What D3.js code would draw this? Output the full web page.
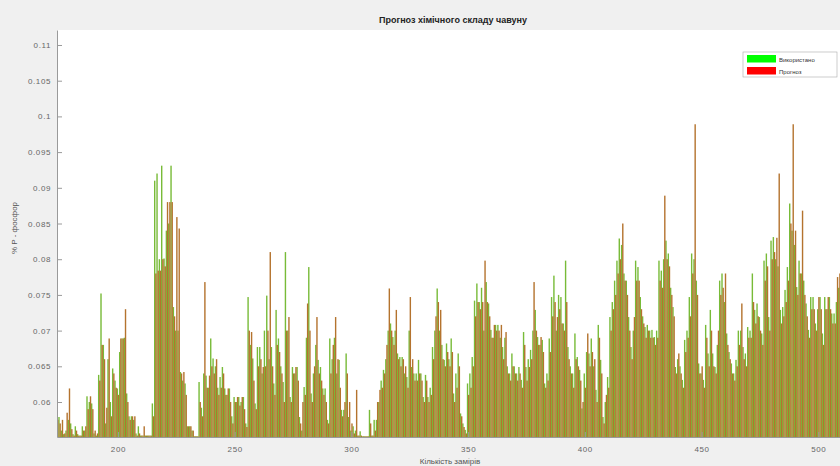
<!DOCTYPE html>
<html>
<head>
<meta charset="utf-8">
<script src="https://cdn.jsdelivr.net/npm/d3@7"></script>
<style>
  html, body { margin: 0; padding: 0; background: #f0f0f0; }
  svg { display: block; font-family: "Liberation Sans", Arial, sans-serif; }
</style>
</head>
<body>
<div id="chart"></div>
<script>
// samples start at this index, one value per sample
const firstSample = 174;

const measured = [
  0.0579, 0.0579, 0.0560, 0.0555, 0.0560, 0.0575, 0.0570, 0.0555, 0.0566, 0.0555,
  0.0553, 0.0566, 0.0560, 0.0608, 0.0600, 0.0598, 0.0556, 0.0553, 0.0638, 0.0752,
  0.0680, 0.0570, 0.0660, 0.0600, 0.0647, 0.0630, 0.0619, 0.0670, 0.0689, 0.0690,
  0.0612, 0.0580, 0.0580, 0.0575, 0.0556, 0.0566, 0.0553, 0.0553, 0.0553, 0.0553,
  0.0553, 0.0598, 0.0910, 0.0920, 0.0800, 0.0931, 0.0801, 0.0840, 0.0850, 0.0931,
  0.0733, 0.0700, 0.0700, 0.0642, 0.0630, 0.0626, 0.0566, 0.0566, 0.0560, 0.0552,
  0.0552, 0.0628, 0.0592, 0.0640, 0.0637, 0.0620, 0.0689, 0.0661, 0.0650, 0.0620,
  0.0635, 0.0649, 0.0619, 0.0610, 0.0619, 0.0580, 0.0607, 0.0600, 0.0607, 0.0600,
  0.0607, 0.0570, 0.0747, 0.0680, 0.0661, 0.0598, 0.0677, 0.0677, 0.0640, 0.0700,
  0.0749, 0.0660, 0.0677, 0.0626, 0.0729, 0.0689, 0.0650, 0.0628, 0.0810, 0.0700,
  0.0607, 0.0649, 0.0640, 0.0649, 0.0579, 0.0560, 0.0621, 0.0690, 0.0789, 0.0612,
  0.0640, 0.0680, 0.0659, 0.0649, 0.0619, 0.0619, 0.0575, 0.0689, 0.0660, 0.0690,
  0.0640, 0.0659, 0.0589, 0.0589, 0.0668, 0.0579, 0.0560, 0.0566, 0.0560, 0.0553,
  0.0559, 0.0552, 0.0552, 0.0552, 0.0589, 0.0553, 0.0575, 0.0575, 0.0600, 0.0630,
  0.0645, 0.0660, 0.0700, 0.0710, 0.0691, 0.0700, 0.0668, 0.0663, 0.0663, 0.0640,
  0.0635, 0.0700, 0.0649, 0.0640, 0.0640, 0.0659, 0.0640, 0.0607, 0.0638, 0.0607,
  0.0620, 0.0677, 0.0700, 0.0759, 0.0700, 0.0680, 0.0659, 0.0682, 0.0660, 0.0689,
  0.0612, 0.0640, 0.0668, 0.0584, 0.0570, 0.0561, 0.0626, 0.0640, 0.0663, 0.0742,
  0.0766, 0.0740, 0.0760, 0.0700, 0.0768, 0.0738, 0.0701, 0.0690, 0.0708, 0.0708,
  0.0690, 0.0677, 0.0690, 0.0650, 0.0640, 0.0668, 0.0650, 0.0640, 0.0649, 0.0631,
  0.0698, 0.0649, 0.0660, 0.0673, 0.0700, 0.0729, 0.0691, 0.0680, 0.0687, 0.0626,
  0.0640, 0.0689, 0.0747, 0.0777, 0.0700, 0.0750, 0.0747, 0.0710, 0.0798, 0.0677,
  0.0650, 0.0640, 0.0696, 0.0663, 0.0645, 0.0591, 0.0640, 0.0670, 0.0668, 0.0689,
  0.0650, 0.0617, 0.0708, 0.0659, 0.0579, 0.0600, 0.0635, 0.0719, 0.0740, 0.0770,
  0.0798, 0.0829, 0.0820, 0.0780, 0.0770, 0.0719, 0.0677, 0.0700, 0.0798, 0.0789,
  0.0747, 0.0720, 0.0705, 0.0708, 0.0700, 0.0701, 0.0691, 0.0700, 0.0798, 0.0784,
  0.0800, 0.0826, 0.0808, 0.0760, 0.0733, 0.0649, 0.0660, 0.0650, 0.0631, 0.0687,
  0.0700, 0.0747, 0.0808, 0.0800, 0.0770, 0.0654, 0.0640, 0.0631, 0.0708, 0.0668,
  0.0729, 0.0668, 0.0649, 0.0680, 0.0770, 0.0780, 0.0740, 0.0696, 0.0670, 0.0654,
  0.0640, 0.0659, 0.0700, 0.0700, 0.0677, 0.0668, 0.0705, 0.0700, 0.0780, 0.0729,
  0.0738, 0.0719, 0.0696, 0.0798, 0.0808, 0.0719, 0.0826, 0.0831, 0.0800, 0.0790,
  0.0729, 0.0733, 0.0757, 0.0789, 0.0878, 0.0840, 0.0820, 0.0761, 0.0798, 0.0780,
  0.0770, 0.0738, 0.0701, 0.0747, 0.0747, 0.0710, 0.0730, 0.0747, 0.0696, 0.0747,
  0.0730, 0.0747, 0.0724, 0.0724, 0.0740, 0.0760, 0.0750
];

const forecast = [
  0.0575, 0.0570, 0.0575, 0.0556, 0.0585, 0.0619, 0.0562, 0.0553, 0.0560, 0.0553,
  0.0553, 0.0560, 0.0566, 0.0590, 0.0608, 0.0590, 0.0560, 0.0556, 0.0630, 0.0680,
  0.0660, 0.0592, 0.0689, 0.0580, 0.0640, 0.0620, 0.0610, 0.0689, 0.0689, 0.0730,
  0.0600, 0.0575, 0.0580, 0.0580, 0.0553, 0.0556, 0.0553, 0.0566, 0.0553, 0.0553,
  0.0553, 0.0580, 0.0780, 0.0784, 0.0784, 0.0800, 0.0790, 0.0880, 0.0880, 0.0880,
  0.0720, 0.0859, 0.0843, 0.0640, 0.0642, 0.0610, 0.0566, 0.0566, 0.0560, 0.0552,
  0.0552, 0.0600, 0.0580, 0.0768, 0.0620, 0.0637, 0.0650, 0.0640, 0.0660, 0.0610,
  0.0620, 0.0640, 0.0610, 0.0619, 0.0600, 0.0570, 0.0600, 0.0607, 0.0595, 0.0607,
  0.0590, 0.0565, 0.0700, 0.0698, 0.0630, 0.0590, 0.0650, 0.0660, 0.0649, 0.0650,
  0.0700, 0.0810, 0.0650, 0.0610, 0.0680, 0.0670, 0.0640, 0.0600, 0.0700, 0.0719,
  0.0600, 0.0640, 0.0649, 0.0630, 0.0570, 0.0600, 0.0610, 0.0738, 0.0700, 0.0600,
  0.0650, 0.0719, 0.0640, 0.0630, 0.0610, 0.0600, 0.0570, 0.0640, 0.0680, 0.0719,
  0.0660, 0.0620, 0.0580, 0.0600, 0.0640, 0.0600, 0.0570, 0.0556, 0.0617, 0.0553,
  0.0553, 0.0552, 0.0552, 0.0552, 0.0570, 0.0553, 0.0560, 0.0600, 0.0617, 0.0620,
  0.0640, 0.0680, 0.0759, 0.0700, 0.0680, 0.0729, 0.0660, 0.0650, 0.0660, 0.0650,
  0.0620, 0.0747, 0.0660, 0.0630, 0.0630, 0.0640, 0.0630, 0.0600, 0.0630, 0.0600,
  0.0610, 0.0660, 0.0720, 0.0740, 0.0729, 0.0660, 0.0650, 0.0670, 0.0650, 0.0670,
  0.0600, 0.0620, 0.0650, 0.0580, 0.0565, 0.0556, 0.0610, 0.0620, 0.0650, 0.0720,
  0.0740, 0.0730, 0.0740, 0.0798, 0.0740, 0.0720, 0.0690, 0.0708, 0.0700, 0.0700,
  0.0708, 0.0660, 0.0698, 0.0640, 0.0630, 0.0650, 0.0640, 0.0630, 0.0640, 0.0620,
  0.0680, 0.0630, 0.0649, 0.0660, 0.0768, 0.0700, 0.0680, 0.0691, 0.0670, 0.0620,
  0.0630, 0.0670, 0.0720, 0.0740, 0.0719, 0.0730, 0.0710, 0.0700, 0.0740, 0.0660,
  0.0640, 0.0620, 0.0660, 0.0650, 0.0630, 0.0600, 0.0620, 0.0696, 0.0650, 0.0670,
  0.0660, 0.0600, 0.0690, 0.0640, 0.0570, 0.0610, 0.0620, 0.0700, 0.0730, 0.0750,
  0.0780, 0.0800, 0.0850, 0.0770, 0.0750, 0.0700, 0.0660, 0.0719, 0.0770, 0.0770,
  0.0730, 0.0710, 0.0690, 0.0700, 0.0690, 0.0690, 0.0680, 0.0690, 0.0770, 0.0760,
  0.0889, 0.0800, 0.0790, 0.0750, 0.0720, 0.0640, 0.0668, 0.0640, 0.0620, 0.0670,
  0.0690, 0.0720, 0.0780, 0.0989, 0.0750, 0.0640, 0.0650, 0.0620, 0.0690, 0.0650,
  0.0700, 0.0650, 0.0640, 0.0700, 0.0750, 0.0760, 0.0780, 0.0680, 0.0660, 0.0640,
  0.0630, 0.0650, 0.0680, 0.0738, 0.0660, 0.0650, 0.0690, 0.0690, 0.0740, 0.0710,
  0.0720, 0.0700, 0.0680, 0.0770, 0.0790, 0.0700, 0.0800, 0.0810, 0.0830, 0.0920,
  0.0710, 0.0720, 0.0740, 0.0770, 0.0850, 0.0989, 0.0840, 0.0750, 0.0780, 0.0868,
  0.0750, 0.0720, 0.0690, 0.0730, 0.0730, 0.0700, 0.0747, 0.0730, 0.0680, 0.0730,
  0.0747, 0.0730, 0.0710, 0.0710, 0.0775, 0.0780, 0.0770
];

const seriesNames = ["Використано", "Прогноз"];
const yTicks = [0.06, 0.065, 0.07, 0.075, 0.08, 0.085, 0.09, 0.095, 0.1, 0.105, 0.11];
const xTicks = [200, 250, 300, 350, 400, 450, 500];

const width = 840, height = 466;
const plot = { left: 57, top: 30, right: 865, bottom: 437 };

const barColor = ["#78bb38", "#b4732e"];
const legendColor = ["#00ff00", "#ff0000"];

const svg = d3.select("#chart").append("svg")
  .attr("width", width)
  .attr("height", height);

svg.append("rect")
  .attr("width", width).attr("height", height)
  .attr("fill", "#f0f0f0");

const x = d3.scaleLinear().domain([173.9, 520]).range([plot.left, plot.right]);
const y = d3.scaleLinear().domain([0.0551, 0.1121]).range([plot.bottom, plot.top]);

svg.append("clipPath").attr("id", "plotClip")
  .append("rect")
  .attr("x", plot.left).attr("y", plot.top)
  .attr("width", plot.right - plot.left).attr("height", plot.bottom - plot.top);

// white axes area
svg.append("rect")
  .attr("x", plot.left).attr("y", plot.top)
  .attr("width", plot.right - plot.left).attr("height", plot.bottom - plot.top)
  .attr("fill", "#fff");

const rows = measured.map((m, i) => ({ idx: firstSample + i, vals: [m, forecast[i]] }));
const step = x(1) - x(0);

// the two bars of one sample overlap a little, so the groups read as solid
const bars = svg.append("g").attr("clip-path", "url(#plotClip)");
[0, 1].forEach(s => {
  bars.selectAll("rect.s" + s)
    .data(rows)
    .enter().append("rect")
    .attr("class", "s" + s)
    .attr("x", d => x(d.idx) - step * 0.55 + s * step * 0.5)
    .attr("width", step * 0.6)
    .attr("y", d => y(d.vals[s]))
    .attr("height", d => Math.max(0, plot.bottom - y(d.vals[s])))
    .attr("fill", barColor[s]);
});

// axes
const yAxis = d3.axisLeft(y).tickValues(yTicks).tickSizeInner(-5).tickSizeOuter(0)
  .tickPadding(6).tickFormat(d => String(+d.toFixed(3)));
const gy = svg.append("g").attr("transform", `translate(${plot.left},0)`).call(yAxis);
gy.select(".domain").attr("stroke", "#9a9a9a");
gy.selectAll(".tick line").attr("stroke", "#9a9a9a");
gy.selectAll("text").attr("fill", "#666").style("font-size", "8px").style("letter-spacing", "0.6px");

const xAxis = d3.axisBottom(x).tickValues(xTicks).tickSizeInner(-5).tickSizeOuter(0)
  .tickPadding(9).tickFormat(d3.format("d"));
const gx = svg.append("g").attr("transform", `translate(0,${plot.bottom})`).call(xAxis);
gx.select(".domain").attr("stroke", "#9a9a9a");
gx.selectAll(".tick line").attr("stroke", "#9a9a9a");
gx.selectAll("text").attr("fill", "#666").style("font-size", "8px").style("letter-spacing", "0.6px");

// title and labels
svg.append("text")
  .attr("x", 453).attr("y", 23)
  .attr("text-anchor", "middle")
  .style("font-size", "9px").style("font-weight", "bold")
  .attr("fill", "#222")
  .text("Прогноз хімічного складу чавуну");

svg.append("text")
  .attr("x", 450).attr("y", 464)
  .attr("text-anchor", "middle")
  .style("font-size", "8px").attr("fill", "#555")
  .text("Кількість замірів");

svg.append("text")
  .attr("transform", "translate(17,228) rotate(-90)")
  .attr("text-anchor", "middle")
  .style("font-size", "8px").attr("fill", "#555")
  .text("% P - фосфор");

// legend
const lg = svg.append("g").attr("transform", "translate(743,52)");
lg.append("rect")
  .attr("width", 94).attr("height", 25)
  .attr("fill", "#fff").attr("stroke", "#aaa").attr("stroke-width", 0.6);
seriesNames.forEach((name, i) => {
  lg.append("rect")
    .attr("x", 4).attr("y", 3 + i * 12)
    .attr("width", 29).attr("height", 7.5)
    .attr("fill", legendColor[i]);
  lg.append("text")
    .attr("x", 36).attr("y", 9.5 + i * 12)
    .style("font-size", "6px").attr("fill", "#333")
    .text(name);
});
</script>
</body>
</html>
